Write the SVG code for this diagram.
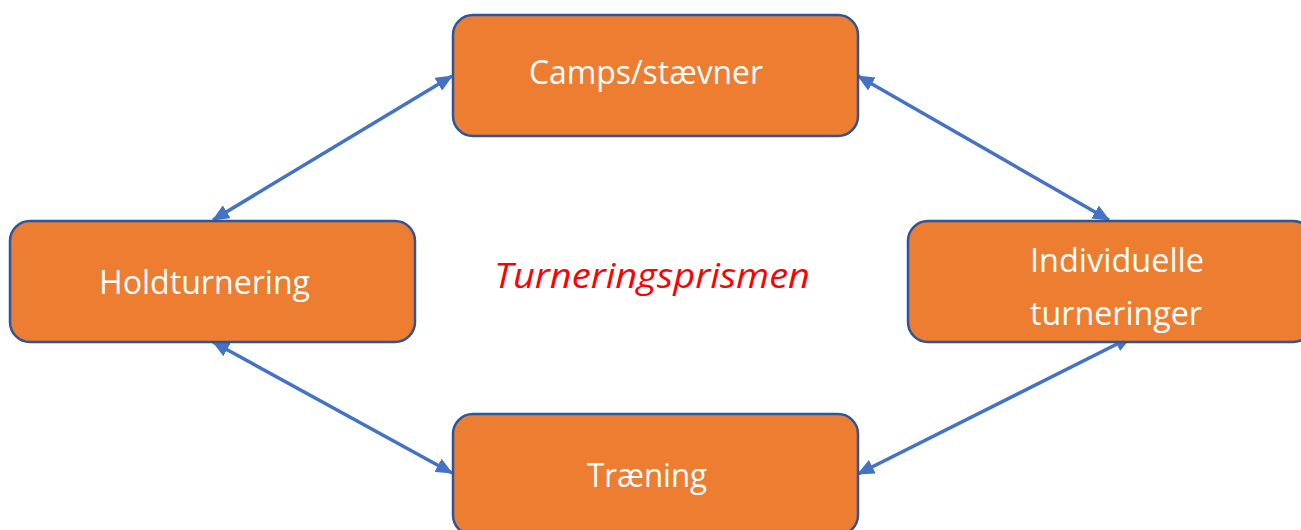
<svg xmlns="http://www.w3.org/2000/svg" width="1301" height="530" viewBox="0 0 1301 530">
<style>
.box{fill:#ED7D31;stroke:#2F5597;stroke-width:2.5}
.lbl{font-family:"Open Sans","Noto Sans",sans-serif;font-size:32px;fill:#FFFFFF}
.title{font-family:"Open Sans","Noto Sans",sans-serif;font-size:34px;font-style:italic;fill:#FF0000}
.conn{stroke:#4472C4;stroke-width:3.5;fill:none;marker-start:url(#ah);marker-end:url(#ah)}
</style>
<defs>
<marker id="ah" viewBox="0 0 17 15" refX="16" refY="7.5" markerWidth="17" markerHeight="15" markerUnits="userSpaceOnUse" orient="auto-start-reverse">
<path d="M0,0 L17,7.5 L0,15 Z" fill="#4472C4"/>
</marker>
</defs>
<rect width="1301" height="530" fill="#FFFFFF"/>
<g id="connectors">
<line class="conn" x1="213" y1="220" x2="452" y2="76"/>
<line class="conn" x1="858" y1="76" x2="1109" y2="220"/>
<line class="conn" x1="213" y1="342" x2="452" y2="473"/>
<line class="conn" x1="1131" y1="337" x2="858" y2="474"/>
</g>
<g id="node-camps">
<rect class="box" x="453" y="15" width="405" height="121" rx="20"/>
<text class="lbl" x="529" y="84" textLength="234" lengthAdjust="spacingAndGlyphs">Camps/stævner</text>
</g>
<g id="node-hold">
<rect class="box" x="10" y="221" width="405" height="121" rx="20"/>
<text class="lbl" x="99" y="294" textLength="211" lengthAdjust="spacingAndGlyphs">Holdturnering</text>
</g>
<g id="node-individuelle">
<rect class="box" x="908" y="221" width="405" height="121" rx="20"/>
<text class="lbl" x="1030" y="272" textLength="174" lengthAdjust="spacingAndGlyphs">Individuelle</text>
<text class="lbl" x="1030" y="325" textLength="172" lengthAdjust="spacingAndGlyphs">turneringer</text>
</g>
<g id="node-traening">
<rect class="box" x="453" y="414" width="405" height="121" rx="20"/>
<text class="lbl" x="587" y="487" textLength="120" lengthAdjust="spacingAndGlyphs">Træning</text>
</g>
<g id="title">
<text class="title" x="494" y="288" textLength="316" lengthAdjust="spacingAndGlyphs">Turneringsprismen</text>
</g>
</svg>
